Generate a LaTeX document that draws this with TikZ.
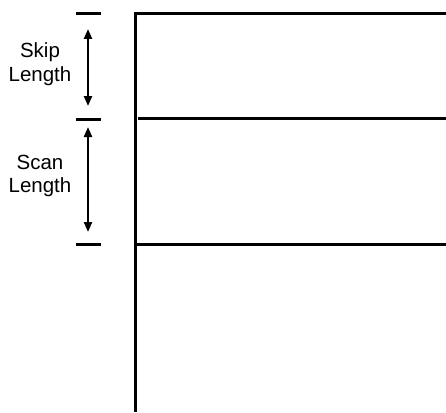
\documentclass[tikz,border=0pt]{standalone}
\usepackage{fontspec}
\setmainfont{Liberation Sans}
\usetikzlibrary{arrows.meta}
\tikzset{
    wall/.style={line width=3pt, line join=miter},
    tick/.style={line width=3pt},
    span/.style={line width=2.2pt, {Triangle[length=10pt,width=8pt]}-{Triangle[length=10pt,width=8pt]}},
    label/.style={align=center, font=\fontsize{20.5}{23.5}\selectfont, inner sep=0pt}
}
\begin{document}
\begin{tikzpicture}[x=1pt, y=-1pt]
    \useasboundingbox (0, 0) rectangle (446, 412);
    % layers
    \draw[wall] (446, 14) -- (135, 14) -- (135, 412);
    \draw[wall] (138, 118) -- (446, 118);
    \draw[wall] (135, 244) -- (446, 244);

    % ticks and spans
    \coordinate (skiptop) at (88, 29);
    \coordinate (skipbot) at (88, 106);
    \coordinate (scantop) at (88, 127);
    \coordinate (scanbot) at (88, 232);
    \draw[tick] (76, 14) -- (101, 14);
    \draw[tick] (76, 119) -- (101, 119);
    \draw[tick] (76, 244) -- (101, 244);
    \draw[span] (skiptop) -- (skipbot);
    \draw[span] (scantop) -- (scanbot);

    \node[label] (skip) at (40, 64) {Skip\\Length};
    \node[label] (scan) at (40, 176) {Scan\\Length};
\end{tikzpicture}
\end{document}
